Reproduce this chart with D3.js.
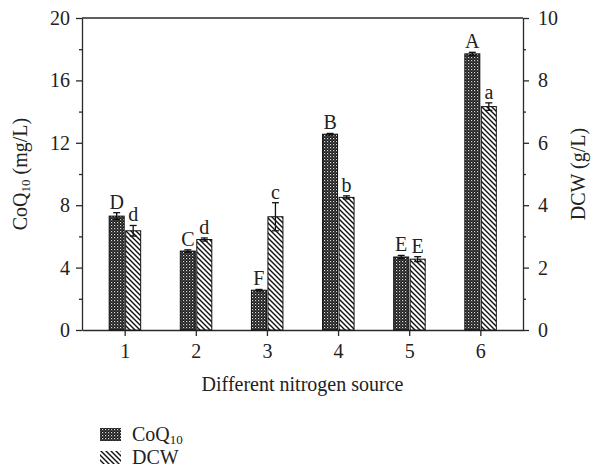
<!DOCTYPE html>
<html>
<head>
<meta charset="utf-8">
<script src="https://cdn.jsdelivr.net/npm/d3@7/dist/d3.min.js"></script>
<style>
  html, body { margin: 0; padding: 0; background: #fff; }
  svg { display: block; }
  text { font-family: "Liberation Serif", "Times New Roman", serif; fill: #222; }
</style>
</head>
<body>
<svg id="chart" width="592" height="469"></svg>
<script>
const categories = [1, 2, 3, 4, 5, 6];
const coqValues = [7.3, 5.06, 2.55, 12.55, 4.68, 17.7];
const coqErrors = [0.22, 0.08, 0.05, 0.05, 0.1, 0.1];
const coqLetters = ["D", "C", "F", "B", "E", "A"];
const dcwValues = [3.18, 2.9, 3.63, 4.25, 2.27, 7.16];
const dcwErrors = [0.17, 0.05, 0.45, 0.05, 0.08, 0.12];
const dcwLetters = ["d", "d", "c", "b", "E", "a"];
const leftTicks = [0, 4, 8, 12, 16, 20];
const leftMinor = [2, 6, 10, 14, 18];
const rightTicks = [0, 2, 4, 6, 8, 10];
const rightMinor = [1, 3, 5, 7, 9];

const svg = d3.select("#chart");
const L = 82, R = 523, T = 18, B = 330;
const ink = "#2a2a2a";

const x = d3.scaleLinear().domain([0.4, 6.6]).range([L, R]);
const yL = d3.scaleLinear().domain([0, 20]).range([B, T]);
const yR = d3.scaleLinear().domain([0, 10]).range([B, T]);

// patterns
const defs = svg.append("defs");
const pd = defs.append("pattern").attr("id", "dots")
  .attr("patternUnits", "userSpaceOnUse").attr("width", 3).attr("height", 3);
pd.append("rect").attr("width", 3).attr("height", 3).attr("fill", "#1a1a1a");
pd.append("rect").attr("x", 0).attr("y", 0).attr("width", 1.2).attr("height", 1.2).attr("fill", "#ddd");
pd.append("rect").attr("x", 1.5).attr("y", 1.5).attr("width", 1).attr("height", 1).attr("fill", "#999");

const ph = defs.append("pattern").attr("id", "hatch")
  .attr("patternUnits", "userSpaceOnUse").attr("width", 5).attr("height", 5);
ph.append("rect").attr("width", 5).attr("height", 5).attr("fill", "#fff");
ph.append("path").attr("d", "M0,0 L5,5 M-1,4 L1,6 M4,-1 L6,1")
  .attr("stroke", "#111").attr("stroke-width", 1.4);

const fs = 20;

function styleAxis(g) {
  g.select(".domain").attr("stroke", ink).attr("stroke-width", 1.3);
  g.selectAll(".tick line").attr("stroke", ink).attr("stroke-width", 1.3);
  g.selectAll(".tick text").attr("font-size", fs).attr("fill", "#222")
    .style("font-family", '"Liberation Serif", serif');
}

// top line
svg.append("line").attr("x1", L).attr("x2", R).attr("y1", T).attr("y2", T)
  .attr("stroke", ink).attr("stroke-width", 1.3);

// left axis
const gl = svg.append("g").attr("transform", `translate(${L},0)`)
  .call(d3.axisLeft(yL).tickValues(leftTicks).tickSize(6).tickSizeOuter(0).tickPadding(6).tickFormat(d3.format("d")));
styleAxis(gl);
svg.append("g").attr("transform", `translate(${L},0)`)
  .call(d3.axisLeft(yL).tickValues(leftMinor).tickSize(3).tickFormat(""))
  .call(g => { g.select(".domain").remove(); g.selectAll("line").attr("stroke", ink).attr("stroke-width", 1.3); });

// right axis
const gr = svg.append("g").attr("transform", `translate(${R},0)`)
  .call(d3.axisRight(yR).tickValues(rightTicks).tickSize(6).tickSizeOuter(0).tickPadding(9).tickFormat(d3.format("d")));
styleAxis(gr);
svg.append("g").attr("transform", `translate(${R},0)`)
  .call(d3.axisRight(yR).tickValues(rightMinor).tickSize(3).tickFormat(""))
  .call(g => { g.select(".domain").remove(); g.selectAll("line").attr("stroke", ink).attr("stroke-width", 1.3); });

// bottom axis
const gb = svg.append("g").attr("transform", `translate(0,${B})`)
  .call(d3.axisBottom(x).tickValues(categories).tickSize(6).tickSizeOuter(0).tickPadding(8).tickFormat(d3.format("d")));
styleAxis(gb);

// bars
const bw = 15;
const data = categories.map((c, i) => ({
  c, coq: coqValues[i], coqE: coqErrors[i], coqL: coqLetters[i],
  dcw: dcwValues[i], dcwE: dcwErrors[i], dcwL: dcwLetters[i]
}));

const bars = svg.append("g");
bars.selectAll(".coq").data(data).join("rect")
  .attr("x", d => x(d.c) - bw - 0.5).attr("width", bw)
  .attr("y", d => yL(d.coq)).attr("height", d => B - yL(d.coq))
  .attr("fill", "url(#dots)").attr("stroke", "#111").attr("stroke-width", 1);
bars.selectAll(".dcw").data(data).join("rect")
  .attr("x", d => x(d.c) + 1).attr("width", bw)
  .attr("y", d => yR(d.dcw)).attr("height", d => B - yR(d.dcw))
  .attr("fill", "url(#hatch)").attr("stroke", "#111").attr("stroke-width", 1);

// error bars
function errBar(cx, yTop, yBot) {
  const g = svg.append("g").attr("stroke", "#111").attr("stroke-width", 1.3);
  g.append("line").attr("x1", cx).attr("x2", cx).attr("y1", yTop).attr("y2", yBot);
  g.append("line").attr("x1", cx - 3.5).attr("x2", cx + 3.5).attr("y1", yTop).attr("y2", yTop);
  g.append("line").attr("x1", cx - 3.5).attr("x2", cx + 3.5).attr("y1", yBot).attr("y2", yBot);
}
data.forEach(d => {
  const c1 = x(d.c) - bw / 2 - 0.5;
  const c2 = x(d.c) + 1 + bw / 2;
  errBar(c1, yL(d.coq + d.coqE), yL(d.coq - d.coqE));
  errBar(c2, yR(d.dcw + d.dcwE), yR(d.dcw - d.dcwE));
  svg.append("text").attr("x", c1).attr("y", yL(d.coq + d.coqE) - 4)
    .attr("text-anchor", "middle").attr("font-size", fs).text(d.coqL);
  svg.append("text").attr("x", c2).attr("y", yR(d.dcw + d.dcwE) - 4)
    .attr("text-anchor", "middle").attr("font-size", fs).text(d.dcwL);
});

// axis titles
const lt = svg.append("text").attr("transform", `translate(27,${(T + B) / 2}) rotate(-90)`)
  .attr("text-anchor", "middle").attr("font-size", fs);
lt.append("tspan").text("CoQ");
lt.append("tspan").attr("font-size", 13).attr("dy", 3).text("10");
lt.append("tspan").attr("dy", -3).text(" (mg/L)");

svg.append("text").attr("transform", `translate(585,${(T + B) / 2}) rotate(-90)`)
  .attr("text-anchor", "middle").attr("font-size", fs).text("DCW (g/L)");

svg.append("text").attr("x", (L + R) / 2).attr("y", 391)
  .attr("text-anchor", "middle").attr("font-size", fs).text("Different nitrogen source");

// legend
const leg = [
  { fill: "url(#dots)", label: "CoQ", sub: "10", y: 428 },
  { fill: "url(#hatch)", label: "DCW", sub: "", y: 451 }
];
leg.forEach(l => {
  svg.append("rect").attr("x", 100).attr("y", l.y).attr("width", 21).attr("height", 13)
    .attr("fill", l.fill);
  const t = svg.append("text").attr("x", 132).attr("y", l.y + 13).attr("font-size", fs);
  t.append("tspan").text(l.label);
  if (l.sub) t.append("tspan").attr("font-size", 13).attr("dy", 3).text(l.sub);
});
</script>
</body>
</html>
